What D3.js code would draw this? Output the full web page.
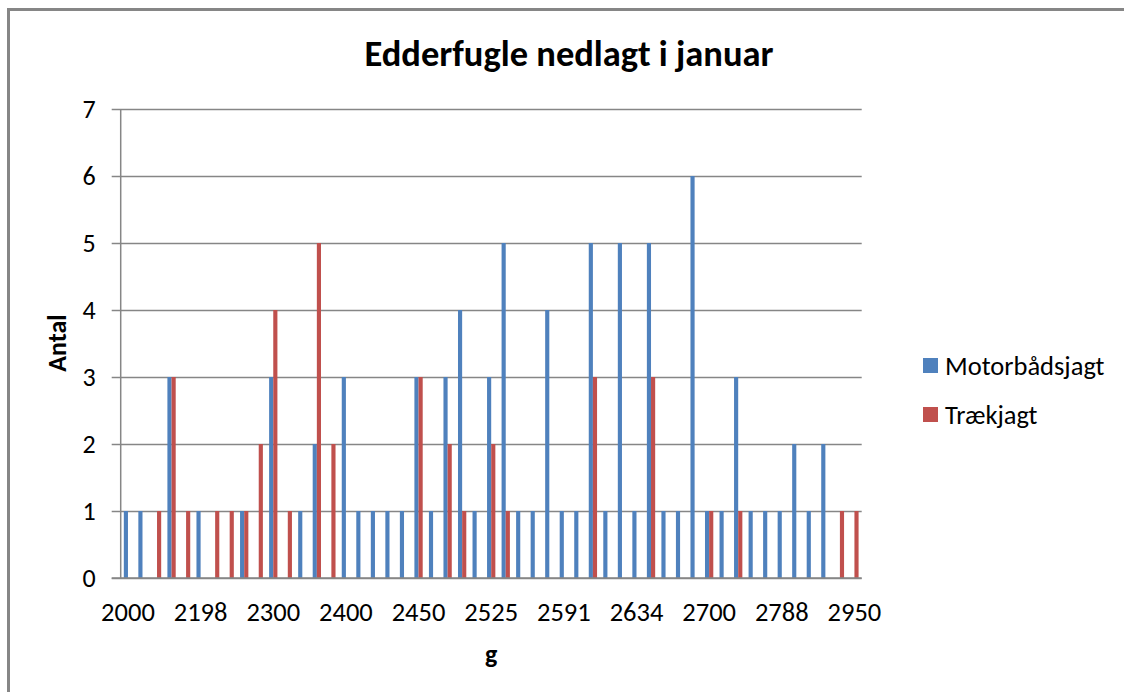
<!DOCTYPE html>
<html>
<head>
<meta charset="utf-8">
<script src="https://cdn.jsdelivr.net/npm/d3@7"></script>
<style>
body{margin:0;background:#fff;font-family:Carlito,Calibri,Lato,sans-serif;}
.domain{display:none;}
</style>
</head>
<body>
<script>
var width = 1124;
var height = 692;

// only every 5th category is labelled on the x axis
var tickLabels = ['2000','2198','2300','2400','2450','2525','2591','2634','2700','2788','2950'];
var seriesNames = ['Motorbådsjagt','Trækjagt'];
var colors = ['#4F81BD','#C0504D'];
var motor = [1,1,0,3,0,1,0,0,1,0,3,0,1,2,0,3,1,1,1,1,3,1,3,4,1,3,5,1,1,4,1,1,5,1,5,1,5,1,1,6,1,1,3,1,1,1,2,1,2,0,0];
var traek = [0,0,1,3,1,0,1,1,1,2,4,1,0,5,2,0,0,0,0,0,3,0,2,1,0,2,1,0,0,0,0,0,3,0,0,0,3,0,0,0,1,0,1,0,0,0,0,0,0,1,1];
var yTicks = [0,1,2,3,4,5,6,7];

var m = {left:120.7, top:109, right:1124-861.7, bottom:692-578};
var w = width - m.left - m.right;
var h = height - m.top - m.bottom;
var font = 'Carlito,Calibri,Lato,sans-serif';

var svg = d3.select('body').append('svg')
	.attr('width',width)
	.attr('height',height);

// chart area frame (runs off the picture at right and bottom)
svg.append('rect')
	.attr('x',8.5).attr('y',9.5)
	.attr('width',width+20).attr('height',height+20)
	.attr('fill','none').attr('stroke','#868686').attr('stroke-width',3);

svg.append('text')
	.attr('x',569).attr('y',66)
	.attr('text-anchor','middle')
	.attr('font-size',36.5).attr('font-weight','bold')
	.text('Edderfugle nedlagt i januar');

var idx = d3.range(motor.length);
var x = d3.scaleBand().domain(idx).range([0,w]);
var xs = d3.scaleBand().domain([0,1]).range([0,x.bandwidth()]).paddingOuter(0.75);
var y = d3.scaleLinear().domain([0,7]).range([h,0]);

var g = svg.append('g').attr('transform','translate('+m.left+','+m.top+')');

// gridlines + left tick marks
var grid = g.append('g')
	.attr('transform','translate('+w+',0)')
	.call(d3.axisLeft(y).tickValues(yTicks).tickSize(w+9).tickFormat(''));
grid.selectAll('line').attr('stroke','#868686').attr('stroke-width',1.5);

var yAxis = g.append('g').call(d3.axisLeft(y).tickValues(yTicks).tickSize(0).tickPadding(25).tickFormat(d3.format('d')));
yAxis.selectAll('text').attr('font-size',26).attr('fill','#000').style('font-family',font);

g.append('line')
	.attr('x1',0).attr('x2',0).attr('y1',0).attr('y2',h)
	.attr('stroke','#868686').attr('stroke-width',1.5);

var data = idx.map(function(i){ return [motor[i],traek[i]]; });
var cat = g.selectAll('.cat').data(data).enter().append('g')
	.attr('transform',function(d,i){ return 'translate('+x(i)+',0)'; });
cat.selectAll('rect')
	.data(function(d){ return d; })
	.enter().append('rect')
	.attr('x',function(d,j){ return xs(j); })
	.attr('width',xs.bandwidth())
	.attr('y',function(d){ return y(d); })
	.attr('height',function(d){ return h-y(d); })
	.attr('fill',function(d,j){ return colors[j]; });

g.append('line')
	.attr('x1',-9).attr('x2',w).attr('y1',h).attr('y2',h)
	.attr('stroke','#868686').attr('stroke-width',1.5);

var xAxis = g.append('g')
	.attr('transform','translate(0,'+h+')')
	.call(d3.axisBottom(x)
		.tickValues(idx.filter(function(i){ return i%5==0; }))
		.tickSize(0).tickPadding(24)
		.tickFormat(function(i){ return tickLabels[i/5]; }));
xAxis.selectAll('text').attr('font-size',26.5).attr('fill','#000').style('font-family',font);

svg.append('text')
	.attr('transform','translate(66,343) rotate(-90)')
	.attr('text-anchor','middle')
	.attr('font-size',26).attr('font-weight','bold')
	.text('Antal');

svg.append('text')
	.attr('x',m.left+w/2).attr('y',663)
	.attr('text-anchor','middle')
	.attr('font-size',26).attr('font-weight','bold')
	.text('g');

var legend = svg.append('g').attr('transform','translate(923,358)');
var li = legend.selectAll('g').data(seriesNames).enter().append('g')
	.attr('transform',function(d,i){ return 'translate(0,'+(i*49)+')'; });
li.append('rect').attr('width',15).attr('height',15).attr('fill',function(d,i){ return colors[i]; });
li.append('text').attr('x',22).attr('y',16.5).attr('font-size',26.5).text(function(d){ return d; });
</script>
</body>
</html>
